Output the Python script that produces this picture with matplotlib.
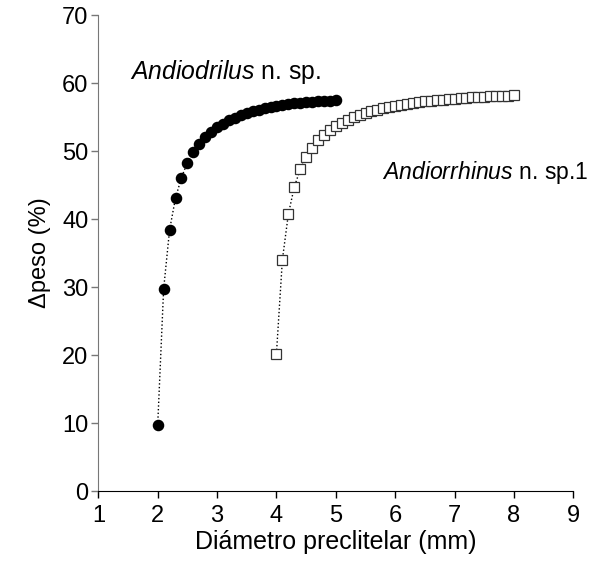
import matplotlib.pyplot as plt

plt.rcParams["font.family"] = ["Liberation Sans", "DejaVu Sans"]
plt.rcParams["mathtext.fontset"] = "custom"
plt.rcParams["mathtext.rm"] = "Liberation Sans"
plt.rcParams["mathtext.it"] = "Liberation Sans:italic"

# diameter (mm) and weight change (%) for each species
diam_andiodrilus = [2.0, 2.1, 2.2, 2.3, 2.4, 2.5, 2.6, 2.7, 2.8, 2.9,
                    3.0, 3.1, 3.2, 3.3, 3.4, 3.5, 3.6, 3.7, 3.8, 3.9,
                    4.0, 4.1, 4.2, 4.3, 4.4, 4.5, 4.6, 4.7, 4.8, 4.9, 5.0]
peso_andiodrilus = [9.7, 29.7, 38.4, 43.1, 46.1, 48.3, 49.8, 51.0, 52.0, 52.8,
                    53.5, 54.0, 54.5, 54.9, 55.3, 55.6, 55.9, 56.1, 56.3, 56.5,
                    56.7, 56.8, 56.9, 57.0, 57.1, 57.2, 57.25, 57.3, 57.35, 57.4, 57.45]

diam_andiorrhinus = [4.0, 4.1, 4.2, 4.3, 4.4, 4.5, 4.6, 4.7, 4.8, 4.9,
                     5.0, 5.1, 5.2, 5.3, 5.4, 5.5, 5.6, 5.7, 5.8, 5.9,
                     6.0, 6.1, 6.2, 6.3, 6.4, 6.5, 6.6, 6.7, 6.8, 6.9,
                     7.0, 7.1, 7.2, 7.3, 7.4, 7.5, 7.6, 7.7, 7.8, 7.9, 8.0]
peso_andiorrhinus = [20.2, 34.0, 40.7, 44.7, 47.3, 49.1, 50.5, 51.6, 52.4, 53.1,
                     53.7, 54.2, 54.6, 55.0, 55.3, 55.6, 55.85, 56.1, 56.3, 56.5,
                     56.65, 56.8, 56.95, 57.1, 57.2, 57.3, 57.4, 57.5, 57.55, 57.65,
                     57.7, 57.8, 57.85, 57.9, 57.95, 58.0, 58.05, 58.1, 58.1, 58.15, 58.2]

x_ticks = [1, 2, 3, 4, 5, 6, 7, 8, 9]
y_ticks = [0, 10, 20, 30, 40, 50, 60, 70]

fig = plt.figure(figsize=(5.93, 5.72), dpi=100)
ax = fig.add_axes([0.1658, 0.1416, 0.801, 0.832])

ax.plot(diam_andiodrilus, peso_andiodrilus, ":", color="black", lw=1,
        marker="o", ms=7.3, mfc="black", mec="black")
ax.plot(diam_andiorrhinus, peso_andiorrhinus, ":", color="black", lw=1,
        marker="s", ms=6.6, mfc="white", mec="#333333", mew=0.9)

ax.set_xlim(1, 9)
ax.set_ylim(0, 70)
ax.set_xticks(x_ticks)
ax.set_yticks(y_ticks)
ax.tick_params(labelsize=17, direction="out", length=5, width=1)
ax.tick_params(axis="y", colors="#777777", labelcolor="black", pad=2)
ax.tick_params(axis="x", pad=5)

for side in ("top", "right"):
    ax.spines[side].set_visible(False)
ax.spines["left"].set_color("#777777")
ax.spines["bottom"].set_color("black")

ax.set_xlabel("Diámetro preclitelar (mm)", fontsize=18, labelpad=2)
ax.set_ylabel("\u0394peso (%)", fontsize=17, labelpad=8)

ax.text(1.53, 61.6, r"$\it{Andiodrilus}$ n. sp.", fontsize=17.8, va="center")
ax.text(5.77, 46.9, r"$\it{Andiorrhinus}$ n. sp.1", fontsize=16.6, va="center")

fig.savefig("out.png", dpi=100)
